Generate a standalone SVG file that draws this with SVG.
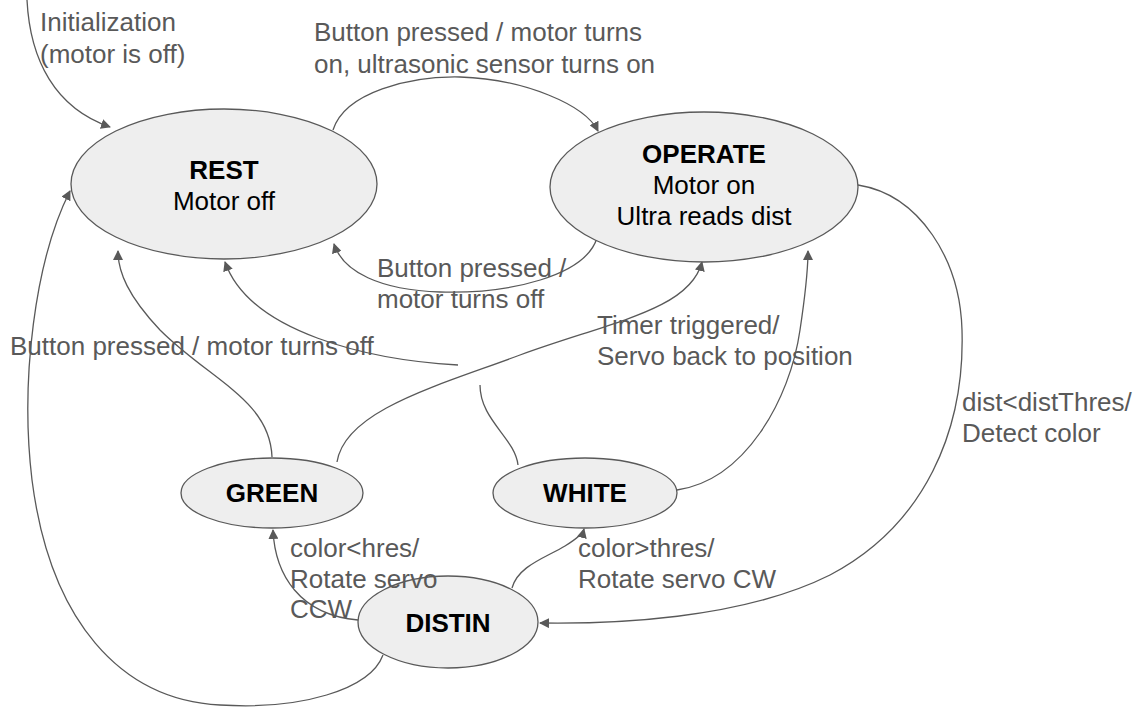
<svg xmlns="http://www.w3.org/2000/svg" width="1146" height="711" viewBox="0 0 1146 711">
<defs>
<marker id="arr" viewBox="0 0 10 10" refX="9" refY="5" markerWidth="10" markerHeight="10" markerUnits="userSpaceOnUse" orient="auto">
<path d="M0,0 L10,5 L0,10 z" fill="#595959"/>
</marker>
<style>
.node ellipse{fill:#eeeeee;stroke:#595959;stroke-width:1.3}
.nt{font-family:"Liberation Sans",Arial,sans-serif;font-size:26px;fill:#000;text-anchor:middle}
.nb{font-weight:bold}
.lb{font-family:"Liberation Sans",Arial,sans-serif;font-size:26px;fill:#595959}
#connectors path{fill:none;stroke:#595959;stroke-width:1.3}
</style>
</defs>
<rect width="1146" height="711" fill="#fff"/>
<g id="connectors">
<path d="M27,0 C30,60 55,108 110,127" marker-end="url(#arr)"/>
<path d="M333,130 C345,92 410,76 460,77 C525,79 585,105 598,131" marker-end="url(#arr)"/>
<path d="M597,238 C585,276 510,294 440,292 C380,290 343,272 334,244" marker-end="url(#arr)"/>
<path d="M518,465 C515,438 480,420 480,385"/>
<path d="M458,365 C370,360 250,333 225,262" marker-end="url(#arr)"/>
<path d="M272,457 C270,400 210,380 160,330 C128,296 118,272 118,251" marker-end="url(#arr)"/>
<path d="M337,462 C345,410 440,385 520,355 C610,322 690,310 702,262" marker-end="url(#arr)"/>
<path d="M677,490 C745,480 790,400 800,330 C806,290 808,268 808,251" marker-end="url(#arr)"/>
<path d="M858,185 C920,195 960,260 962,330 C965,430 925,525 830,575 C740,620 610,624 540,623" marker-end="url(#arr)"/>
<path d="M358,620 C300,615 275,575 273,530" marker-end="url(#arr)"/>
<path d="M512,588 C518,566 545,558 565,546 C578,538 583,533 584,529" marker-end="url(#arr)"/>
<path d="M383,655 C370,690 300,710 220,705 C120,700 50,620 32,480 C20,380 35,260 70,191" marker-end="url(#arr)"/>
</g>
<g id="REST" class="node">
<ellipse cx="224" cy="184" rx="153" ry="75"/>
<text class="nt nb" x="224" y="179">REST</text>
<text class="nt" x="224" y="210">Motor off</text>
</g>
<g id="OPERATE" class="node">
<ellipse cx="704" cy="187" rx="154" ry="75"/>
<text class="nt nb" x="704" y="163">OPERATE</text>
<text class="nt" x="704" y="194">Motor on</text>
<text class="nt" x="704" y="225">Ultra reads dist</text>
</g>
<g id="GREEN" class="node">
<ellipse cx="272" cy="493" rx="91" ry="35"/>
<text class="nt nb" x="272" y="502">GREEN</text>
</g>
<g id="WHITE" class="node">
<ellipse cx="585" cy="493" rx="92" ry="35"/>
<text class="nt nb" x="585" y="502">WHITE</text>
</g>
<g id="DISTIN" class="node">
<ellipse cx="448" cy="622" rx="90" ry="46"/>
<text class="nt nb" x="448" y="632">DISTIN</text>
</g>
<g id="labels">
<text class="lb" x="40" y="31">Initialization</text>
<text class="lb" x="40" y="63">(motor is off)</text>
<text class="lb" x="314" y="41">Button pressed / motor turns</text>
<text class="lb" x="314" y="73">on, ultrasonic sensor turns on</text>
<text class="lb" x="377" y="277">Button pressed /</text>
<text class="lb" x="377" y="308">motor turns off</text>
<text class="lb" x="10" y="355">Button pressed / motor turns off</text>
<text class="lb" x="597" y="334">Timer triggered/</text>
<text class="lb" x="597" y="365">Servo back to position</text>
<text class="lb" x="962" y="411">dist&lt;distThres/</text>
<text class="lb" x="962" y="442">Detect color</text>
<text class="lb" x="290" y="557">color&lt;hres/</text>
<text class="lb" x="290" y="588">Rotate servo</text>
<text class="lb" x="290" y="618">CCW</text>
<text class="lb" x="578" y="557">color&gt;thres/</text>
<text class="lb" x="578" y="588">Rotate servo CW</text>
</g>
</svg>
